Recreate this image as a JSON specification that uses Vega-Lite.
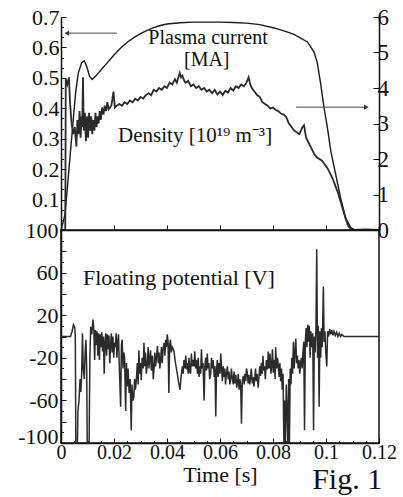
{
  "$schema": "https://vega.github.io/schema/vega-lite/v6.json",
  "background": "white",
  "padding": {"left": 16, "top": 6, "right": 2, "bottom": 0},
  "spacing": 0,
  "bounds": "flush",
  "config": {
    "font": "Liberation Serif",
    "view": {"stroke": null},
    "axis": {
      "labelFont": "Liberation Serif",
      "titleFont": "Liberation Serif",
      "titleFontWeight": "normal",
      "labelColor": "#111",
      "titleColor": "#111",
      "domainColor": "#111",
      "domainWidth": 1.5,
      "tickColor": "#111",
      "tickWidth": 1,
      "grid": false,
      "labelOverlap": false,
      "labelFlush": false
    },
    "text": {"font": "Liberation Serif", "color": "#111"}
  },
  "vconcat": [
    {
      "width": 318,
      "height": 213,
      "layer": [
        {
          "layer": [
            {
              "data": {"values": [
                {"time": 0, "current": 0}, {"time": 0.0015, "current": 0.05}, {"time": 0.003, "current": 0.2},
                {"time": 0.0045, "current": 0.35}, {"time": 0.0055, "current": 0.45}, {"time": 0.0065, "current": 0.515},
                {"time": 0.0078, "current": 0.55}, {"time": 0.0088, "current": 0.556}, {"time": 0.0098, "current": 0.535},
                {"time": 0.0108, "current": 0.505}, {"time": 0.0118, "current": 0.495}, {"time": 0.013, "current": 0.505},
                {"time": 0.015, "current": 0.525}, {"time": 0.0175, "current": 0.55}, {"time": 0.02, "current": 0.575},
                {"time": 0.0225, "current": 0.598}, {"time": 0.025, "current": 0.617}, {"time": 0.0275, "current": 0.632},
                {"time": 0.03, "current": 0.645}, {"time": 0.0325, "current": 0.656}, {"time": 0.035, "current": 0.665},
                {"time": 0.0375, "current": 0.672}, {"time": 0.04, "current": 0.677}, {"time": 0.045, "current": 0.681},
                {"time": 0.05, "current": 0.683}, {"time": 0.055, "current": 0.683}, {"time": 0.06, "current": 0.683},
                {"time": 0.065, "current": 0.682}, {"time": 0.07, "current": 0.68}, {"time": 0.075, "current": 0.675},
                {"time": 0.0804, "current": 0.664}, {"time": 0.085, "current": 0.652}, {"time": 0.0879, "current": 0.643},
                {"time": 0.093, "current": 0.618}, {"time": 0.0955, "current": 0.585}, {"time": 0.0967, "current": 0.55},
                {"time": 0.098, "current": 0.48}, {"time": 0.0992, "current": 0.405}, {"time": 0.1005, "current": 0.338},
                {"time": 0.1018, "current": 0.26}, {"time": 0.1036, "current": 0.185}, {"time": 0.1055, "current": 0.106},
                {"time": 0.1074, "current": 0.04}, {"time": 0.1093, "current": 0.008}, {"time": 0.111, "current": 0},
                {"time": 0.12, "current": 0}
              ]},
              "mark": {"type": "line", "color": "#1a1a1a", "strokeWidth": 1.4},
              "encoding": {
                "x": {"field": "time", "type": "quantitative"},
                "y": {"field": "current", "type": "quantitative"}
              }
            },
            {
              "data": {"values": [
                {"time": 0.0555, "current": 0.63, "label": "Plasma current"},
                {"time": 0.055, "current": 0.56, "label": "[MA]"}
              ]},
              "mark": {"type": "text", "fontSize": 20, "align": "center", "baseline": "middle"},
              "encoding": {
                "x": {"field": "time", "type": "quantitative"},
                "y": {"field": "current", "type": "quantitative"},
                "text": {"field": "label"}
              }
            },
            {
              "data": {"values": [{"time": 0.0211, "time2": 0.0025, "current": 0.647}]},
              "mark": {"type": "rule", "color": "#444", "strokeWidth": 1},
              "encoding": {
                "x": {"field": "time", "type": "quantitative"},
                "x2": {"field": "time2"},
                "y": {"field": "current", "type": "quantitative"}
              }
            },
            {
              "data": {"values": [{"time": 0.0022, "current": 0.647}]},
              "mark": {"type": "point", "shape": "triangle-left", "filled": true, "size": 28, "color": "#333", "opacity": 1},
              "encoding": {
                "x": {"field": "time", "type": "quantitative"},
                "y": {"field": "current", "type": "quantitative"}
              }
            }
          ],
          "encoding": {
            "x": {
              "field": "time", "type": "quantitative",
              "scale": {"domain": [0, 0.12], "nice": false, "zero": false},
              "axis": {
                "orient": "bottom", "title": null, "labels": false,
                "values": [0,0.005,0.01,0.015,0.02,0.025,0.03,0.035,0.04,0.045,0.05,0.055,0.06,0.065,0.07,0.075,0.08,0.085,0.09,0.095,0.1,0.105,0.11,0.115,0.12],
                "tickSize": {"condition": {"test": "round(datum.value*1000) % 20 == 0", "value": -5}, "value": -2.5}
              }
            },
            "y": {
              "field": "current", "type": "quantitative",
              "scale": {"domain": [0, 0.7], "nice": false, "zero": false},
              "axis": {
                "orient": "left", "title": null,
                "values": [0,0.0333,0.0667,0.1,0.1333,0.1667,0.2,0.2333,0.2667,0.3,0.3333,0.3667,0.4,0.4333,0.4667,0.5,0.5333,0.5667,0.6,0.6333,0.6667,0.7],
                "labelExpr": "(datum.value > 0.05 && abs(datum.value*10 - round(datum.value*10)) < 0.01) ? format(datum.value, '.1f') : ''",
                "labelFontSize": 22,
                "labelPadding": 7,
                "tickSize": {"condition": {"test": "abs(datum.value*10 - round(datum.value*10)) < 0.01", "value": -5}, "value": -2.5}
              }
            }
          }
        },
        {
          "layer": [
            {
              "data": {"values": [
                {"time": 0, "density": 0}, {"time": 0.0016, "density": 0}, {"time": 0.0018, "density": 4.25},
                {"time": 0.0024, "density": 4.1}, {"time": 0.003, "density": 4.3}, {"time": 0.0034, "density": 3.6},
                {"time": 0.004, "density": 3.0}, {"time": 0.0046, "density": 2.7}, {"time": 0.0052, "density": 2.9},
                {"time": 0.0058, "density": 2.35}, {"time": 0.0062, "density": 3.1}, {"time": 0.0066, "density": 2.7},
                {"time": 0.007, "density": 3.35}, {"time": 0.0074, "density": 2.6}, {"time": 0.0078, "density": 3.2},
                {"time": 0.008, "density": 2.9}, {"time": 0.0083, "density": 4.3}, {"time": 0.0086, "density": 2.8},
                {"time": 0.009, "density": 3.3}, {"time": 0.0094, "density": 2.5}, {"time": 0.0098, "density": 3.2},
                {"time": 0.0102, "density": 2.6}, {"time": 0.0106, "density": 3.3}, {"time": 0.011, "density": 2.8},
                {"time": 0.0114, "density": 3.2}, {"time": 0.0118, "density": 2.7}, {"time": 0.0122, "density": 3.1},
                {"time": 0.0126, "density": 2.8}, {"time": 0.013, "density": 3.3}, {"time": 0.0134, "density": 2.9},
                {"time": 0.0138, "density": 3.2}, {"time": 0.0142, "density": 3.0}, {"time": 0.0146, "density": 3.35},
                {"time": 0.015, "density": 3.1}, {"time": 0.0155, "density": 3.45}, {"time": 0.016, "density": 3.25},
                {"time": 0.0165, "density": 3.5}, {"time": 0.017, "density": 3.35}, {"time": 0.0175, "density": 3.6},
                {"time": 0.018, "density": 3.4}, {"time": 0.019, "density": 3.5}, {"time": 0.0198, "density": 3.9},
                {"time": 0.0203, "density": 3.45}, {"time": 0.021, "density": 3.5}, {"time": 0.022, "density": 3.55},
                {"time": 0.023, "density": 3.5}, {"time": 0.024, "density": 3.6}, {"time": 0.025, "density": 3.55},
                {"time": 0.026, "density": 3.65}, {"time": 0.027, "density": 3.6}, {"time": 0.028, "density": 3.7},
                {"time": 0.029, "density": 3.65}, {"time": 0.03, "density": 3.75}, {"time": 0.031, "density": 3.7},
                {"time": 0.032, "density": 3.8}, {"time": 0.033, "density": 3.85}, {"time": 0.034, "density": 3.8},
                {"time": 0.035, "density": 3.95}, {"time": 0.036, "density": 3.9}, {"time": 0.037, "density": 4.0},
                {"time": 0.038, "density": 3.95}, {"time": 0.039, "density": 4.05}, {"time": 0.04, "density": 4.0},
                {"time": 0.041, "density": 4.15}, {"time": 0.042, "density": 4.1}, {"time": 0.043, "density": 4.25},
                {"time": 0.0437, "density": 4.15}, {"time": 0.0448, "density": 4.42}, {"time": 0.0453, "density": 4.3},
                {"time": 0.0458, "density": 4.35}, {"time": 0.0465, "density": 4.2}, {"time": 0.047, "density": 4.15},
                {"time": 0.048, "density": 4.2}, {"time": 0.049, "density": 4.05}, {"time": 0.05, "density": 4.1},
                {"time": 0.051, "density": 4.0}, {"time": 0.052, "density": 4.05}, {"time": 0.053, "density": 3.95},
                {"time": 0.054, "density": 4.0}, {"time": 0.055, "density": 3.9}, {"time": 0.056, "density": 3.95},
                {"time": 0.057, "density": 3.85}, {"time": 0.058, "density": 3.95}, {"time": 0.059, "density": 3.82},
                {"time": 0.06, "density": 3.9}, {"time": 0.061, "density": 3.8}, {"time": 0.062, "density": 3.92},
                {"time": 0.063, "density": 3.87}, {"time": 0.064, "density": 4.0}, {"time": 0.065, "density": 3.93},
                {"time": 0.066, "density": 4.05}, {"time": 0.067, "density": 4.0}, {"time": 0.068, "density": 4.1},
                {"time": 0.069, "density": 4.05}, {"time": 0.07, "density": 4.15}, {"time": 0.0708, "density": 4.3},
                {"time": 0.0714, "density": 4.1}, {"time": 0.072, "density": 4.0}, {"time": 0.073, "density": 3.9},
                {"time": 0.074, "density": 3.8}, {"time": 0.075, "density": 3.75}, {"time": 0.076, "density": 3.6},
                {"time": 0.077, "density": 3.55}, {"time": 0.078, "density": 3.5}, {"time": 0.079, "density": 3.42},
                {"time": 0.08, "density": 3.45}, {"time": 0.081, "density": 3.38}, {"time": 0.082, "density": 3.35},
                {"time": 0.083, "density": 3.28}, {"time": 0.084, "density": 3.25}, {"time": 0.085, "density": 3.18},
                {"time": 0.086, "density": 3.0}, {"time": 0.087, "density": 2.9}, {"time": 0.088, "density": 2.8},
                {"time": 0.089, "density": 2.75}, {"time": 0.09, "density": 2.7}, {"time": 0.091, "density": 2.88},
                {"time": 0.0917, "density": 2.95}, {"time": 0.0925, "density": 2.6}, {"time": 0.0935, "density": 2.45},
                {"time": 0.0945, "density": 2.3}, {"time": 0.0955, "density": 2.15}, {"time": 0.0965, "density": 2.05},
                {"time": 0.0975, "density": 2.0}, {"time": 0.0985, "density": 1.95}, {"time": 0.0995, "density": 1.85},
                {"time": 0.1005, "density": 1.75}, {"time": 0.1015, "density": 1.6}, {"time": 0.1025, "density": 1.45},
                {"time": 0.1035, "density": 1.25}, {"time": 0.1045, "density": 1.05}, {"time": 0.1055, "density": 0.8},
                {"time": 0.1065, "density": 0.55}, {"time": 0.1075, "density": 0.3}, {"time": 0.1085, "density": 0.1},
                {"time": 0.1095, "density": 0.02}, {"time": 0.11, "density": 0}, {"time": 0.115, "density": 0.02},
                {"time": 0.12, "density": 0}
              ]},
              "mark": {"type": "line", "color": "#2b2b2b", "strokeWidth": 1.8},
              "encoding": {
                "x": {"field": "time", "type": "quantitative"},
                "y": {"field": "density", "type": "quantitative"}
              }
            },
            {
              "data": {"values": [{"time": 0.0506, "density": 2.65, "label": "Density [10¹⁹ m⁻³]"}]},
              "mark": {"type": "text", "fontSize": 21, "align": "center", "baseline": "middle"},
              "encoding": {
                "x": {"field": "time", "type": "quantitative"},
                "y": {"field": "density", "type": "quantitative"},
                "text": {"field": "label"}
              }
            },
            {
              "data": {"values": [{"time": 0.0887, "time2": 0.1152, "density": 3.46}]},
              "mark": {"type": "rule", "color": "#444", "strokeWidth": 1},
              "encoding": {
                "x": {"field": "time", "type": "quantitative"},
                "x2": {"field": "time2"},
                "y": {"field": "density", "type": "quantitative"}
              }
            },
            {
              "data": {"values": [{"time": 0.1152, "density": 3.46}]},
              "mark": {"type": "point", "shape": "triangle-right", "filled": true, "size": 28, "color": "#333", "opacity": 1},
              "encoding": {
                "x": {"field": "time", "type": "quantitative"},
                "y": {"field": "density", "type": "quantitative"}
              }
            }
          ],
          "encoding": {
            "x": {"field": "time", "type": "quantitative", "scale": {"domain": [0, 0.12], "nice": false, "zero": false}},
            "y": {
              "field": "density", "type": "quantitative",
              "scale": {"domain": [0, 6], "nice": false, "zero": false},
              "axis": {
                "orient": "right", "title": null,
                "values": [0, 1, 2, 3, 4, 5, 6],
                "labelFontSize": 23,
                "labelPadding": 4,
                "tickSize": -6
              }
            }
          }
        }
      ],
      "resolve": {"scale": {"y": "independent"}, "axis": {"y": "independent"}}
    },
    {
      "width": 318,
      "height": 213,
      "view": {"stroke": "#111", "strokeWidth": 1.5},
      "layer": [
        {
          "data": {"values": [{"V": 0}]},
          "mark": {"type": "rule", "color": "#6a6a6a", "strokeWidth": 1.6},
          "encoding": {"y": {"field": "V", "type": "quantitative"}}
        },
        {
          "data": {"values": [
            {"time": 0, "V": 0}, {"time": 0.0036, "V": 0}, {"time": 0.0042, "V": 5}, {"time": 0.0047, "V": 11},
            {"time": 0.0052, "V": 8}, {"time": 0.0054, "V": 0}, {"time": 0.0056, "V": -100}, {"time": 0.0062, "V": -100},
            {"time": 0.0064, "V": -70}, {"time": 0.0068, "V": -60}, {"time": 0.0072, "V": -40}, {"time": 0.0075, "V": -52},
            {"time": 0.0078, "V": -35}, {"time": 0.0081, "V": 3}, {"time": 0.0084, "V": -30}, {"time": 0.0088, "V": -40},
            {"time": 0.0091, "V": -15}, {"time": 0.0094, "V": -3}, {"time": 0.0097, "V": -30}, {"time": 0.0099, "V": -100},
            {"time": 0.0106, "V": -100}, {"time": 0.0109, "V": -20}, {"time": 0.0112, "V": 9}, {"time": 0.0116, "V": 2},
            {"time": 0.0121, "V": 16}, {"time": 0.0124, "V": 5}, {"time": 0.0127, "V": -22}, {"time": 0.013, "V": 6},
            {"time": 0.0133, "V": -8}, {"time": 0.0136, "V": 5}, {"time": 0.0139, "V": -18}, {"time": 0.0142, "V": 3},
            {"time": 0.0145, "V": -22}, {"time": 0.0148, "V": 2}, {"time": 0.0151, "V": -10}, {"time": 0.0154, "V": 4},
            {"time": 0.0157, "V": -14}, {"time": 0.016, "V": 0}, {"time": 0.0163, "V": -35}, {"time": 0.0166, "V": -5},
            {"time": 0.0169, "V": 3}, {"time": 0.0172, "V": -18}, {"time": 0.0175, "V": 2}, {"time": 0.0178, "V": -12},
            {"time": 0.0181, "V": 1}, {"time": 0.0184, "V": -25}, {"time": 0.0187, "V": -8}, {"time": 0.019, "V": 3},
            {"time": 0.0193, "V": -15}, {"time": 0.0196, "V": 0}, {"time": 0.0199, "V": -20}, {"time": 0.0202, "V": -6},
            {"time": 0.0205, "V": -10}, {"time": 0.0208, "V": 3}, {"time": 0.0211, "V": -20}, {"time": 0.0214, "V": -5},
            {"time": 0.0217, "V": 2}, {"time": 0.022, "V": -28}, {"time": 0.0225, "V": -66}, {"time": 0.0228, "V": -8},
            {"time": 0.0231, "V": -3}, {"time": 0.0234, "V": -30}, {"time": 0.0237, "V": -15}, {"time": 0.024, "V": -20},
            {"time": 0.0244, "V": -70}, {"time": 0.0247, "V": -25}, {"time": 0.025, "V": -47}, {"time": 0.0253, "V": -30},
            {"time": 0.0257, "V": -53}, {"time": 0.0261, "V": -40}, {"time": 0.0265, "V": -88}, {"time": 0.0268, "V": -45},
            {"time": 0.0271, "V": -60}, {"time": 0.0275, "V": -57}, {"time": 0.0278, "V": -40}, {"time": 0.0281, "V": -50},
            {"time": 0.0285, "V": -38}, {"time": 0.0288, "V": -25}, {"time": 0.0291, "V": -45}, {"time": 0.0294, "V": -13},
            {"time": 0.0297, "V": -35}, {"time": 0.03, "V": -25}, {"time": 0.0303, "V": -41}, {"time": 0.0306, "V": -20},
            {"time": 0.031, "V": -30}, {"time": 0.0313, "V": -6}, {"time": 0.0316, "V": -28}, {"time": 0.0319, "V": -15},
            {"time": 0.0322, "V": -35}, {"time": 0.0326, "V": -25}, {"time": 0.0329, "V": -10}, {"time": 0.0332, "V": -30},
            {"time": 0.0335, "V": -20}, {"time": 0.0338, "V": -13}, {"time": 0.0341, "V": -32}, {"time": 0.0345, "V": -18},
            {"time": 0.0348, "V": -40}, {"time": 0.0351, "V": -31}, {"time": 0.0354, "V": -15}, {"time": 0.0357, "V": -28},
            {"time": 0.036, "V": -20}, {"time": 0.0364, "V": -9}, {"time": 0.0367, "V": -25}, {"time": 0.037, "V": -15},
            {"time": 0.0373, "V": -30}, {"time": 0.0376, "V": -22}, {"time": 0.0379, "V": -10}, {"time": 0.0382, "V": -25},
            {"time": 0.0385, "V": -12}, {"time": 0.0389, "V": -6}, {"time": 0.0392, "V": -18}, {"time": 0.0395, "V": -3},
            {"time": 0.0398, "V": -10}, {"time": 0.0401, "V": 2}, {"time": 0.0404, "V": -5}, {"time": 0.0407, "V": -53},
            {"time": 0.041, "V": -8}, {"time": 0.0413, "V": -3}, {"time": 0.0416, "V": -15}, {"time": 0.042, "V": -10},
            {"time": 0.0426, "V": -13}, {"time": 0.0432, "V": -25}, {"time": 0.0439, "V": -35}, {"time": 0.0443, "V": -42},
            {"time": 0.0449, "V": -50}, {"time": 0.0453, "V": -38}, {"time": 0.0458, "V": -28}, {"time": 0.0461, "V": -35},
            {"time": 0.0464, "V": -22}, {"time": 0.0468, "V": -30}, {"time": 0.0471, "V": -18}, {"time": 0.0474, "V": -31},
            {"time": 0.0477, "V": -25}, {"time": 0.048, "V": -35}, {"time": 0.0483, "V": -20}, {"time": 0.0486, "V": -33},
            {"time": 0.0489, "V": -35}, {"time": 0.0492, "V": -16}, {"time": 0.0495, "V": -28}, {"time": 0.0498, "V": -22},
            {"time": 0.0502, "V": -28}, {"time": 0.0505, "V": -14}, {"time": 0.0508, "V": -30}, {"time": 0.0511, "V": -22},
            {"time": 0.0515, "V": -35}, {"time": 0.0518, "V": -20}, {"time": 0.0521, "V": -38}, {"time": 0.0524, "V": -28},
            {"time": 0.0527, "V": -35}, {"time": 0.053, "V": -12}, {"time": 0.0533, "V": -30}, {"time": 0.0536, "V": -25},
            {"time": 0.054, "V": -60}, {"time": 0.0543, "V": -28}, {"time": 0.0546, "V": -20}, {"time": 0.0549, "V": -32},
            {"time": 0.0552, "V": -16}, {"time": 0.0555, "V": -30}, {"time": 0.0558, "V": -25}, {"time": 0.0561, "V": -40},
            {"time": 0.0565, "V": -35}, {"time": 0.0568, "V": -20}, {"time": 0.0571, "V": -30}, {"time": 0.0574, "V": -22},
            {"time": 0.0578, "V": -38}, {"time": 0.0581, "V": -28}, {"time": 0.0584, "V": -75}, {"time": 0.0587, "V": -31},
            {"time": 0.059, "V": -22}, {"time": 0.0593, "V": -38}, {"time": 0.0596, "V": -25}, {"time": 0.06, "V": -35},
            {"time": 0.0603, "V": -16}, {"time": 0.0606, "V": -30}, {"time": 0.0609, "V": -42}, {"time": 0.0612, "V": -28},
            {"time": 0.0615, "V": -38}, {"time": 0.0618, "V": -30}, {"time": 0.0621, "V": -45}, {"time": 0.0624, "V": -35},
            {"time": 0.0628, "V": -28}, {"time": 0.0631, "V": -40}, {"time": 0.0634, "V": -33}, {"time": 0.0637, "V": -45},
            {"time": 0.064, "V": -41}, {"time": 0.0643, "V": -30}, {"time": 0.0646, "V": -38}, {"time": 0.065, "V": -45},
            {"time": 0.0653, "V": -33}, {"time": 0.0656, "V": -44}, {"time": 0.066, "V": -36}, {"time": 0.0663, "V": -48},
            {"time": 0.0666, "V": -44}, {"time": 0.0669, "V": -35}, {"time": 0.0672, "V": -50}, {"time": 0.0675, "V": -40},
            {"time": 0.0678, "V": -46}, {"time": 0.0681, "V": -82}, {"time": 0.0684, "V": -42}, {"time": 0.0688, "V": -37},
            {"time": 0.0691, "V": -45}, {"time": 0.0694, "V": -35}, {"time": 0.0697, "V": -42}, {"time": 0.07, "V": -30},
            {"time": 0.0703, "V": -34}, {"time": 0.0706, "V": -44}, {"time": 0.0709, "V": -36}, {"time": 0.0712, "V": -45},
            {"time": 0.0715, "V": -40}, {"time": 0.0718, "V": -30}, {"time": 0.0722, "V": -44}, {"time": 0.0725, "V": -38},
            {"time": 0.0728, "V": -47}, {"time": 0.0731, "V": -40}, {"time": 0.0734, "V": -30}, {"time": 0.0737, "V": -42},
            {"time": 0.074, "V": -35}, {"time": 0.0744, "V": -48}, {"time": 0.0747, "V": -38}, {"time": 0.075, "V": -28},
            {"time": 0.0753, "V": -37}, {"time": 0.0756, "V": -25}, {"time": 0.0759, "V": -35}, {"time": 0.0762, "V": -18},
            {"time": 0.0765, "V": -32}, {"time": 0.0768, "V": -28}, {"time": 0.0771, "V": -40}, {"time": 0.0775, "V": -22},
            {"time": 0.0779, "V": -31}, {"time": 0.0782, "V": -14}, {"time": 0.0785, "V": -30}, {"time": 0.0789, "V": -16},
            {"time": 0.0792, "V": -35}, {"time": 0.0795, "V": -28}, {"time": 0.0798, "V": -12}, {"time": 0.0801, "V": -34},
            {"time": 0.0805, "V": -22}, {"time": 0.0808, "V": -40}, {"time": 0.081, "V": -10}, {"time": 0.0814, "V": -30},
            {"time": 0.0817, "V": -20}, {"time": 0.082, "V": -28}, {"time": 0.0823, "V": -38}, {"time": 0.0826, "V": -25},
            {"time": 0.0829, "V": -42}, {"time": 0.0832, "V": -30}, {"time": 0.0835, "V": -50}, {"time": 0.0838, "V": -35},
            {"time": 0.0841, "V": -100}, {"time": 0.0844, "V": -60}, {"time": 0.0847, "V": -100}, {"time": 0.085, "V": -45},
            {"time": 0.0853, "V": -70}, {"time": 0.0856, "V": -100}, {"time": 0.0859, "V": -40}, {"time": 0.0862, "V": -100},
            {"time": 0.0865, "V": -30}, {"time": 0.0868, "V": -45}, {"time": 0.0871, "V": -20}, {"time": 0.0874, "V": -35},
            {"time": 0.0877, "V": -5}, {"time": 0.088, "V": -30}, {"time": 0.0883, "V": -15}, {"time": 0.0886, "V": -2},
            {"time": 0.0889, "V": -25}, {"time": 0.0892, "V": -18}, {"time": 0.0895, "V": -30}, {"time": 0.0898, "V": -22},
            {"time": 0.0901, "V": -35}, {"time": 0.0904, "V": -25}, {"time": 0.0907, "V": -20}, {"time": 0.091, "V": -30},
            {"time": 0.0913, "V": -15}, {"time": 0.0916, "V": -5}, {"time": 0.0919, "V": -88}, {"time": 0.0922, "V": -5},
            {"time": 0.0925, "V": 8}, {"time": 0.0928, "V": -10}, {"time": 0.0931, "V": 11}, {"time": 0.0934, "V": -5},
            {"time": 0.0937, "V": 10}, {"time": 0.094, "V": -20}, {"time": 0.0943, "V": 5}, {"time": 0.0946, "V": -10},
            {"time": 0.095, "V": 3}, {"time": 0.0953, "V": -88}, {"time": 0.0956, "V": 0}, {"time": 0.0959, "V": -15},
            {"time": 0.0962, "V": 5}, {"time": 0.0965, "V": 82}, {"time": 0.0968, "V": -20}, {"time": 0.0971, "V": 10},
            {"time": 0.0974, "V": -66}, {"time": 0.0977, "V": 5}, {"time": 0.098, "V": -20}, {"time": 0.0983, "V": 8},
            {"time": 0.0986, "V": -10}, {"time": 0.099, "V": 47}, {"time": 0.0993, "V": -5}, {"time": 0.0996, "V": 5},
            {"time": 0.0999, "V": -15}, {"time": 0.1003, "V": -28}, {"time": 0.1006, "V": 5}, {"time": 0.101, "V": 0},
            {"time": 0.1014, "V": 7}, {"time": 0.1018, "V": 2}, {"time": 0.1022, "V": 6}, {"time": 0.1026, "V": 1},
            {"time": 0.103, "V": 5}, {"time": 0.1035, "V": 1}, {"time": 0.104, "V": 4}, {"time": 0.1045, "V": 0},
            {"time": 0.105, "V": 3}, {"time": 0.1055, "V": 0}, {"time": 0.106, "V": 2}, {"time": 0.1068, "V": 0},
            {"time": 0.12, "V": 0}
          ]},
          "mark": {"type": "line", "color": "#2b2b2b", "strokeWidth": 1.5},
          "encoding": {
            "x": {"field": "time", "type": "quantitative"},
            "y": {"field": "V", "type": "quantitative"}
          }
        },
        {
          "data": {"values": [{"time": 0.0445, "V": 55, "label": "Floating potential [V]"}]},
          "mark": {"type": "text", "fontSize": 22, "align": "center", "baseline": "middle"},
          "encoding": {
            "x": {"field": "time", "type": "quantitative"},
            "y": {"field": "V", "type": "quantitative"},
            "text": {"field": "label"}
          }
        },
        {
          "data": {"values": [{"time": 0.108, "V": -143, "label": "Fig. 1"}]},
          "mark": {"type": "text", "fontSize": 30, "align": "center", "baseline": "alphabetic"},
          "encoding": {
            "x": {"field": "time", "type": "quantitative"},
            "y": {"field": "V", "type": "quantitative"},
            "text": {"field": "label"}
          }
        }
      ],
      "encoding": {
        "x": {
          "field": "time", "type": "quantitative",
          "scale": {"domain": [0, 0.12], "nice": false, "zero": false},
          "axis": {
            "orient": "bottom", "title": "Time [s]", "titleFontSize": 22, "titlePadding": 0,
            "values": [0,0.005,0.01,0.015,0.02,0.025,0.03,0.035,0.04,0.045,0.05,0.055,0.06,0.065,0.07,0.075,0.08,0.085,0.09,0.095,0.1,0.105,0.11,0.115,0.12],
            "labelExpr": "(round(datum.value*1000) % 20 == 0) ? toString(round(datum.value*100)/100) : ''",
            "labelFontSize": 20,
            "labelPadding": 4,
            "tickSize": {"condition": {"test": "round(datum.value*1000) % 20 == 0", "value": -5}, "value": -2.5}
          }
        },
        "y": {
          "field": "V", "type": "quantitative",
          "scale": {"domain": [-100, 100], "nice": false, "zero": false},
          "axis": {
            "orient": "left", "title": null,
            "values": [-100,-90,-80,-70,-60,-50,-40,-30,-20,-10,0,10,20,30,40,50,60,70,80,90,100],
            "labelExpr": "((round(datum.value) + 100) % 40 == 0) ? toString(datum.value) : ''",
            "labelFontSize": 22,
            "labelPadding": 8,
            "labelBaseline": {"condition": {"test": "datum.value == -100", "value": "alphabetic"}, "value": "middle"},
            "tickSize": {"condition": {"test": "(round(datum.value) + 100) % 20 == 0", "value": -5}, "value": -2.5}
          }
        }
      }
    }
  ]
}
